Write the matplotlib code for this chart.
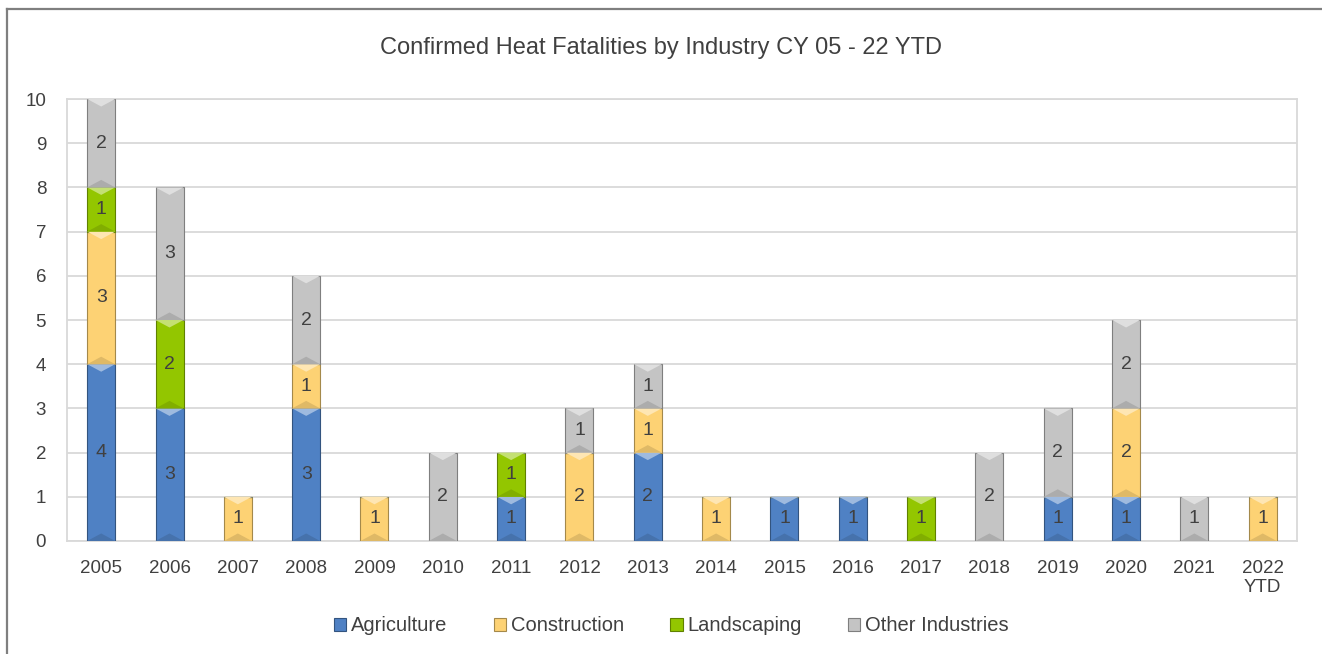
import numpy as np
import matplotlib
matplotlib.use('Agg')
import matplotlib.pyplot as plt
from matplotlib.patches import Polygon
from matplotlib.lines import Line2D
from matplotlib.colors import to_rgb

plt.rcParams['font.family'] = ['Liberation Sans Narrow', 'Liberation Sans', 'DejaVu Sans']

# data
years = ['2005', '2006', '2007', '2008', '2009', '2010', '2011', '2012', '2013',
         '2014', '2015', '2016', '2017', '2018', '2019', '2020', '2021', '2022\nYTD']
agriculture = [4, 3, 0, 3, 0, 0, 1, 0, 2, 0, 1, 1, 0, 0, 1, 1, 0, 0]
construction = [3, 0, 1, 1, 1, 0, 0, 2, 1, 1, 0, 0, 0, 0, 0, 2, 0, 1]
landscaping = [1, 2, 0, 0, 0, 0, 1, 0, 0, 0, 0, 0, 1, 0, 0, 0, 0, 0]
other = [2, 3, 0, 2, 0, 2, 0, 1, 1, 0, 0, 0, 0, 2, 2, 2, 1, 0]

series = [('Agriculture', agriculture, '#4f81c4'),
          ('Construction', construction, '#fdd274'),
          ('Landscaping', landscaping, '#93c600'),
          ('Other Industries', other, '#c4c4c4')]


def shade(c, f):
    r = np.array(to_rgb(c))
    if f > 0:
        return tuple(r + (1 - r) * f)
    return tuple(r * (1 + f))


fig = plt.figure(figsize=(13.22, 6.54), dpi=100)
ax = fig.add_axes([0.0507, 0.1728, 0.9303, 0.6758])

x = np.arange(len(years))
width = 0.41
bottom = np.zeros(len(years))
for name, vals, col in series:
    vals = np.array(vals)
    bars = ax.bar(x, vals, width, bottom=bottom, color=col, label=name,
                  edgecolor=shade(col, -0.35), linewidth=0.8, zorder=3)
    for b, v, b0 in zip(bars, vals, bottom):
        if v == 0:
            continue
        x0 = b.get_x()
        x1 = x0 + b.get_width()
        xc = x0 + b.get_width() / 2
        top = b0 + v
        d = 0.17
        # bevel look: light chevron on top, darker at the bottom
        ax.add_patch(Polygon([(x0, top), (x1, top), (xc, top - d)], closed=True,
                             facecolor=shade(col, 0.45), edgecolor='none', zorder=4))
        ax.add_patch(Polygon([(x0, b0), (x1, b0), (xc, b0 + d)], closed=True,
                             facecolor=shade(col, -0.12), edgecolor='none', zorder=4))
        ax.text(xc, b0 + v / 2, str(v), ha='center', va='center', fontsize=14,
                color='#404040', zorder=5)
    bottom = bottom + vals

ax.set_xlim(-0.5, len(years) - 0.5)
ax.set_ylim(0, 10)
ax.set_yticks(range(0, 11))
ax.set_xticks(x)
ax.set_xticklabels(years, linespacing=1.15)
ax.tick_params(axis='both', length=0, labelsize=13.5, colors='#404040', pad=14)
ax.tick_params(axis='y', pad=15)
ax.yaxis.grid(True, color='#d9d9d9', linewidth=1.3, zorder=0)
ax.set_axisbelow(True)
for s in ax.spines.values():
    s.set_color('#d9d9d9')
    s.set_linewidth(1.3)

fig.text(0.5, 0.926, 'Confirmed Heat Fatalities by Industry CY 05 - 22 YTD',
         ha='center', va='center', fontsize=17, color='#404040')

leg = fig.legend(loc='center', bbox_to_anchor=(0.508, 0.043), ncol=4, frameon=False,
                 fontsize=14.5, handlelength=0.6, handleheight=0.6, handletextpad=0.25,
                 columnspacing=2.3, labelcolor='#404040')

# outer chart frame: left and top edges only
fig.add_artist(Line2D([0.0053, 0.0053], [0.0, 0.986], transform=fig.transFigure,
                      color='#7f7f7f', linewidth=1.6))
fig.add_artist(Line2D([0.0053, 1.0], [0.986, 0.986], transform=fig.transFigure,
                      color='#7f7f7f', linewidth=1.6))

fig.savefig('out.png', dpi=100)
